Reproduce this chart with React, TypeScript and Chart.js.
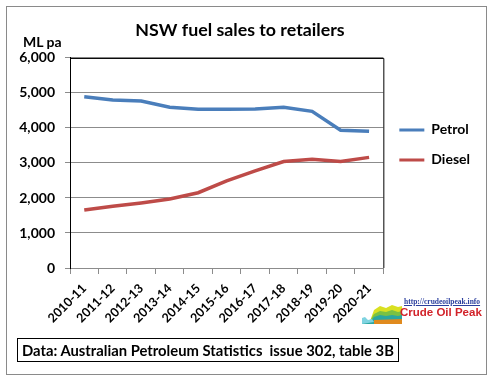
import React, { useEffect, useRef } from "react";
import { Chart, registerables } from "chart.js";

Chart.register(...registerables);

const title = "NSW fuel sales to retailers";
const yUnit = "ML pa";
const categories = ["2010-11", "2011-12", "2012-13", "2013-14", "2014-15", "2015-16", "2016-17", "2017-18", "2018-19", "2019-20", "2020-21"];
const petrol = [4895, 4800, 4770, 4595, 4535, 4535, 4545, 4595, 4475, 3935, 3905];
const diesel = [1655, 1765, 1860, 1970, 2150, 2490, 2775, 3040, 3105, 3040, 3160];
const seriesNames = ["Petrol", "Diesel"];
const yTicks = [0, 1000, 2000, 3000, 4000, 5000, 6000];
const sourceText = "Data: Australian Petroleum Statistics  issue 302, table 3B";
const logoUrl = "http://crudeoilpeak.info";
const logoName = "Crude Oil Peak";

const FONT = "Lato, 'Open Sans', sans-serif";

const frameLines = {
  id: "frameLines",
  afterDatasetsDraw(chart: any) {
    const { ctx, chartArea } = chart;
    ctx.save();
    ctx.strokeStyle = "#000";
    ctx.lineWidth = 1;
    ctx.beginPath();
    ctx.moveTo(chartArea.left, chartArea.top + 0.5);
    ctx.lineTo(chartArea.right + 0.5, chartArea.top + 0.5);
    ctx.lineTo(chartArea.right + 0.5, chartArea.bottom);
    ctx.stroke();
    ctx.restore();
  },
};

export default function App() {
  const ref = useRef<HTMLCanvasElement>(null);
  useEffect(() => {
    const chart = new Chart(ref.current!, {
      type: "line",
      data: {
        labels: categories,
        datasets: [
          { label: seriesNames[0], data: petrol, borderColor: "#4a7ebb", backgroundColor: "#4a7ebb", borderWidth: 3.5, pointRadius: 0, tension: 0 },
          { label: seriesNames[1], data: diesel, borderColor: "#be4b48", backgroundColor: "#be4b48", borderWidth: 3.5, pointRadius: 0, tension: 0 },
        ],
      },
      options: {
        animation: false,
        responsive: false,
        events: [],
        layout: { padding: { top: 0, left: 0, right: 14, bottom: 43 } },
        plugins: {
          title: {
            display: true,
            text: title,
            color: "#000",
            font: { family: FONT, size: 17.8, weight: "bold" },
            padding: { top: 19.5, bottom: 17.1 },
          },
          legend: {
            display: true,
            position: "right",
            align: "start",
            fullSize: false,
            title: { display: true, text: " ", font: { size: 12 }, padding: { top: 0, bottom: 34.6 } },
            labels: {
              boxWidth: 25,
              boxHeight: 3,
              padding: 16,
              color: "#000",
              font: { family: FONT, size: 14, weight: "bold" },
              generateLabels: (c: any) =>
                Chart.defaults.plugins.legend.labels.generateLabels(c).map((l: any) => ({ ...l, strokeStyle: "rgba(0,0,0,0)", lineWidth: 0 })),
            },
          },
          tooltip: { enabled: false },
        },
        scales: {
          x: {
            offset: true,
            grid: { display: true, drawOnChartArea: false, drawTicks: true, tickLength: 6, color: "#8c8c8c", offset: true },
            border: { color: "#8c8c8c" },
            ticks: { minRotation: 45, maxRotation: 45, autoSkip: false, padding: 7, color: "#000", font: { family: FONT, size: 12.5, weight: "bold" } },
            afterFit: (s: any) => { s.height = 70; },
          },
          y: {
            min: yTicks[0],
            max: yTicks[yTicks.length - 1],
            afterBuildTicks: (s: any) => { s.ticks = yTicks.map((v) => ({ value: v })); },
            grid: { color: "#8c8c8c", drawTicks: true, tickLength: 5, tickColor: "#8c8c8c" },
            border: { color: "#000" },
            ticks: {
              padding: 10,
              color: "#000",
              font: { family: FONT, size: 14, weight: "bold" },
              callback: (v: any) => Number(v).toLocaleString("en-US"),
            },
            afterFit: (s: any) => { s.width = 70; },
          },
        },
      },
      plugins: [frameLines],
    });
    return () => chart.destroy();
  }, []);

  return (
    <div style={{ position: "absolute", left: 0, top: 0, width: 494, height: 381, background: "#fff", fontFamily: FONT }}>
      <div style={{ position: "absolute", left: 6, top: 6, width: 479, height: 367, border: "1px solid #8a8a8a" }} />
      <canvas ref={ref} width={494} height={381} style={{ position: "absolute", left: 0, top: 0 }} />
      <div style={{ position: "absolute", left: 23, top: 33, fontSize: 14, fontWeight: "bold", color: "#000" }}>{yUnit}</div>
      <div style={{ position: "absolute", left: 17, top: 338, width: 382, height: 24, border: "1px solid #000", boxSizing: "border-box", whiteSpace: "pre", fontSize: 14.8, fontWeight: "bold", lineHeight: "22px", paddingLeft: 4, color: "#000" }}>{sourceText}</div>
      <svg style={{ position: "absolute", left: 362, top: 300 }} width={40} height={24} viewBox="0 0 40 24">
        <polygon points="0,22 4,20 8,21 12,10 18,6 24,8 30,5 36,7 40,6 40,24 0,24" fill="#d9e021" />
        <polygon points="0,22 4,20 8,21 12,14 18,11 24,12 30,10 36,12 40,11 40,24 0,24" fill="#7ac143" />
        <polygon points="0,22 4,21 8,22 12,17 18,15 24,16 30,15 36,16 40,15 40,24 0,24" fill="#2aa6a0" />
        <polygon points="12,20 40,19 40,24 12,24" fill="#e08a1e" />
        <polygon points="0,18 3,17 6,20 10,19 12,22 0,24" fill="#7fd3e0" />
      </svg>
      <div style={{ position: "absolute", left: 404, top: 297, fontSize: 7.5, fontFamily: "'Liberation Serif', serif", fontWeight: "bold", color: "#2b3f9e", textDecoration: "underline" }}>{logoUrl}</div>
      <div style={{ position: "absolute", left: 400, top: 306, fontSize: 11.5, fontWeight: "bold", color: "#d2232a", fontFamily: "'Liberation Sans', Arial, sans-serif" }}>{logoName}</div>
    </div>
  );
}
